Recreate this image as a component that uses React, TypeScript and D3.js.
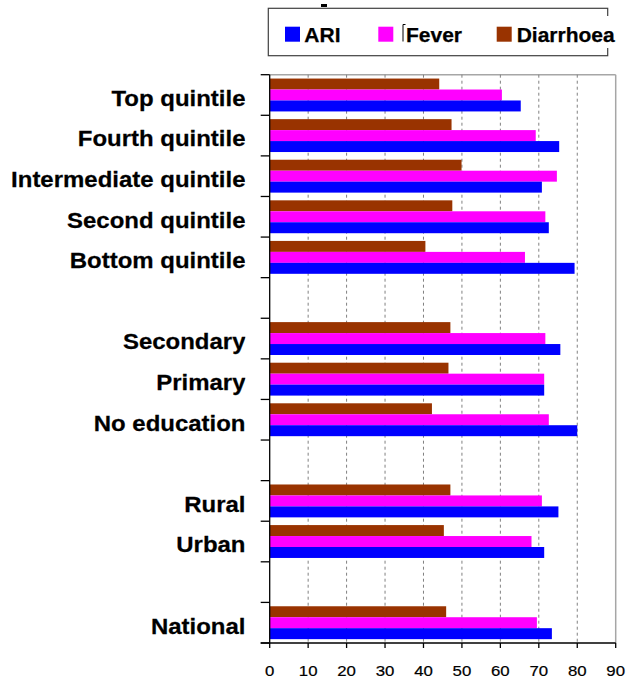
import React from "react";
import * as d3 from "d3";

const categories = [
  "Top quintile",
  "Fourth quintile",
  "Intermediate quintile",
  "Second quintile",
  "Bottom quintile",
  "",
  "Secondary",
  "Primary",
  "No education",
  "",
  "Rural",
  "Urban",
  "",
  "National",
];
const ari = [65.3, 75.3, 70.8, 72.6, 79.3, null, 75.6, 71.4, 80.0, null, 75.1, 71.4, null, 73.4];
const fever = [60.4, 69.2, 74.7, 71.7, 66.4, null, 71.7, 71.4, 72.6, null, 70.8, 68.1, null, 69.5];
const diarrhoea = [44.1, 47.3, 49.9, 47.5, 40.5, null, 47.0, 46.5, 42.2, null, 47.0, 45.3, null, 45.9];
const seriesNames = ["Diarrhoea", "Fever", "ARI"];
const legendNames = ["ARI", "Fever", "Diarrhoea"];
const xTicks = [0, 10, 20, 30, 40, 50, 60, 70, 80, 90];

const colors: Record<string, string> = {
  ARI: "#0000FF",
  Fever: "#FF00FF",
  Diarrhoea: "#993300",
};

const W = 626;
const H = 681;
const left = 269.7;
const right = 615.7;
const top = 74.7;
const bottom = 643;
const FONT = "'Liberation Sans', Arial, Helvetica, sans-serif";

export default function App() {
  const x = d3.scaleLinear().domain([0, 90]).range([left, right]);
  const idx = categories.map((_, i) => String(i));
  const y = d3
    .scaleBand<string>()
    .domain(idx)
    .range([top, bottom])
    .paddingInner(0.19)
    .paddingOuter(0.095);
  const ySub = d3.scaleBand<string>().domain(seriesNames).range([0, y.bandwidth()]);
  const step = y.step();
  const boundaries = d3.range(categories.length + 1).map((i) => top + i * step);
  const valuesBySeries: Record<string, (number | null)[]> = {
    ARI: ari,
    Fever: fever,
    Diarrhoea: diarrhoea,
  };

  return (
    <svg
      width={W}
      height={H}
      style={{ position: "absolute", left: 0, top: 0, background: "#fff" }}
      fontFamily={FONT}
    >
      <defs>
        <clipPath id="lblclip">
          <rect x={0} y={0} width={245.5} height={H} />
        </clipPath>
      </defs>
      <rect x={0} y={0} width={W} height={H} fill="#fff" />

      {/* top border and right border of plot */}
      <line x1={left} x2={right} y1={top} y2={top} stroke="#a6a6a6" strokeWidth={1.5} />
      <line x1={right} x2={right} y1={top} y2={bottom} stroke="#a6a6a6" strokeWidth={1.5} />

      {/* gridlines */}
      {xTicks
        .filter((t) => t > 0 && t < 90)
        .map((t) => (
          <line
            key={"g" + t}
            x1={x(t)}
            x2={x(t)}
            y1={top}
            y2={bottom}
            stroke="#808080"
            strokeWidth={1}
            strokeDasharray="3,3"
          />
        ))}

      {/* bars */}
      {seriesNames.map((s) =>
        valuesBySeries[s].map((v, i) =>
          v == null ? null : (
            <rect
              key={s + i}
              x={x(0)}
              y={(y(String(i)) as number) + (ySub(s) as number)}
              width={x(v) - x(0)}
              height={ySub.bandwidth()}
              fill={colors[s]}
            />
          )
        )
      )}

      {/* left axis */}
      <line x1={left} x2={left} y1={top} y2={bottom} stroke="#000" strokeWidth={1.3} />
      {boundaries.map((b, i) => (
        <line key={"lt" + i} x1={left - 9} x2={left} y1={b} y2={b} stroke="#000" strokeWidth={1.3} />
      ))}

      {/* bottom axis */}
      <line x1={left - 9} x2={right} y1={bottom} y2={bottom} stroke="#000" strokeWidth={1.3} />
      {xTicks.map((t) => (
        <line key={"bt" + t} x1={x(t)} x2={x(t)} y1={bottom} y2={bottom + 5} stroke="#000" strokeWidth={1.3} />
      ))}
      {xTicks.map((t) => (
        <text
          key={"tl" + t}
          transform={`translate(${x(t)},675.5) scale(1.12,1)`}
          textAnchor="middle"
          fontSize={15}
          fill="#000"
          stroke="#000"
          strokeWidth={0.2}
        >
          {t}
        </text>
      ))}

      {/* category labels */}
      <g clipPath="url(#lblclip)">
        {categories.map((c, i) =>
          c === "" ? null : (
            <text
              key={"cl" + i}
              transform={`translate(245.5,${(y(String(i)) as number) + y.bandwidth() / 2 + 10.8}) scale(1.09,1)`}
              textAnchor="end"
              fontSize={22}
              fontWeight="bold"
              fill="#000"
              stroke="#000"
              strokeWidth={0.25}
            >
              {c}
            </text>
          )
        )}
      </g>

      {/* legend */}
      <rect x={268.3} y={8.3} width={339.4} height={47.4} fill="#fff" stroke="#404040" strokeWidth={1.2} />
      <rect x={514} y={16} width={100} height={32} fill="#fff" />
      <rect x={321} y={4} width={6} height={3} fill="#000" />
      {legendNames.map((s, i) => {
        const sx = [285, 378.3, 496.7][i];
        const tx = [304.3, 406, 516.7][i];
        return (
          <g key={"lg" + s}>
            <rect x={sx} y={26.7} width={15} height={15} fill={colors[s]} />
            <text x={tx} y={41.7} fontSize={21} fontWeight="bold" fill="#000" stroke="#000" strokeWidth={0.25}>
              {s}
            </text>
          </g>
        );
      })}
      <path d="M403,24.5 V41.5 M403,24.5 H405.5" stroke="#000" strokeWidth={1} fill="none" />
    </svg>
  );
}
